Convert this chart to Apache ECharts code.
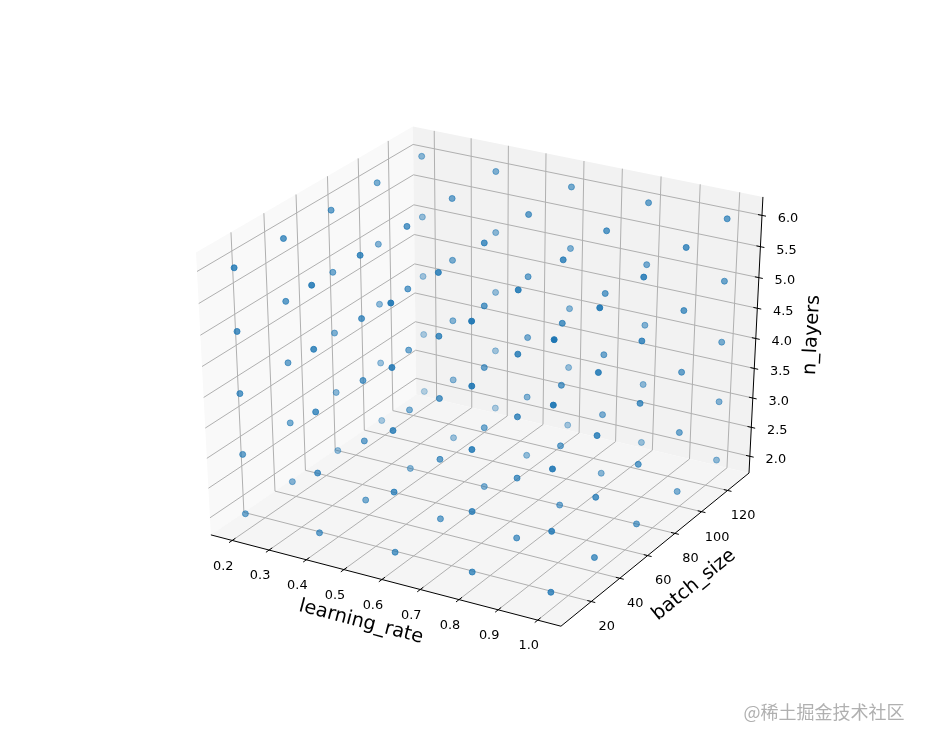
<!DOCTYPE html>
<html><head><meta charset="utf-8">
<style>html,body{margin:0;padding:0;background:#fff}#c{width:926px;height:743px}</style>
<script src="https://cdn.jsdelivr.net/npm/echarts@6/dist/echarts.min.js"></script>
</head><body><div id="c"></div>
<script>
// values
const learningRates = [0.2, 0.4, 0.6, 0.8, 1.0];
const batchSizes = [8, 38, 68, 98, 128];
const nLayers = [2, 3, 4, 5, 6];
const xTicks = [0.2, 0.3, 0.4, 0.5, 0.6, 0.7, 0.8, 0.9, 1.0];
const yTicks = [20, 40, 60, 80, 100, 120];
const zTicks = [2.0, 2.5, 3.0, 3.5, 4.0, 4.5, 5.0, 5.5, 6.0];

// 3D view (elevation 30, azimuth -60, unit cube stretched to the axes rectangle)
const limits = { x: [0.16, 1.04], y: [2, 134], z: [1.8, 6.2] };
const ELEV = 30 * Math.PI / 180, AZIM = -60 * Math.PI / 180, DIST = 10;
const box = [1, 1, 1];
const R = box.map(b => b / 2);
const dirv = [Math.cos(ELEV) * Math.cos(AZIM), Math.cos(ELEV) * Math.sin(AZIM), Math.sin(ELEV)];
const eye = R.map((r, i) => r + DIST * dirv[i]);
const cross = (a, b) => [a[1]*b[2]-a[2]*b[1], a[2]*b[0]-a[0]*b[2], a[0]*b[1]-a[1]*b[0]];
const dot = (a, b) => a[0]*b[0]+a[1]*b[1]+a[2]*b[2];
const w = dirv;
let u = cross([0, 0, 1], w); const un = Math.hypot(...u); u = u.map(v => v / un);
const v = cross(w, u);
function toBox(p) {
  return [
    (p[0]-limits.x[0])/(limits.x[1]-limits.x[0])*box[0],
    (p[1]-limits.y[0])/(limits.y[1]-limits.y[0])*box[1],
    (p[2]-limits.z[0])/(limits.z[1]-limits.z[0])*box[2]
  ];
}
function depth(p) { const b = toBox(p); return -dot(b.map((c,i)=>c-eye[i]), w); }
function proj(p) {
  const b = toBox(p), q = b.map((c,i)=>c-eye[i]);
  const zv = -dot(q, w);
  return [dot(q, u)/zv, dot(q, v)/zv];
}

// pane extents
const pad = a => { const d = (a[1]-a[0])/48; return [a[0]-d, a[1]+d]; };
const X = pad(limits.x), Y = pad(limits.y), Z = pad(limits.z);

// points
const raw = [];
learningRates.forEach(l => batchSizes.forEach(b => nLayers.forEach(n => raw.push([l, b, n]))));
const ds = raw.map(depth), dMin = Math.min(...ds), dMax = Math.max(...ds);
const points = raw
  .map((p, i) => ({ p, d: ds[i] }))
  .sort((a, b) => b.d - a.d)
  .map(o => ({
    value: proj(o.p),
    itemStyle: { opacity: 1 - 0.7 * (o.d - dMin) / (dMax - dMin) }
  }));

const FONT = 'DejaVu Sans';
const TICK_FS = 12.9, LABEL_FS = 19.3;
function renderChrome(params, api) {
  const c = p => api.coord(proj(p));
  const kids = [];
  const poly = (pts, fill) => kids.push({ type: 'polygon', shape: { points: pts.map(c) }, style: { fill, stroke: 'none' } });
  const line = (a, b, stroke, lw) => {
    const A = c(a), B = c(b);
    kids.push({ type: 'line', shape: { x1: A[0], y1: A[1], x2: B[0], y2: B[1] }, style: { stroke, lineWidth: lw } });
  };
  const text = (s, x, y, fs, rot) => kids.push({
    type: 'text', x, y, rotation: (rot || 0) * Math.PI / 180,
    style: { text: s, fontFamily: FONT, fontSize: fs, fill: '#000', align: 'center', verticalAlign: 'middle' }
  });
  // panes
  poly([[X[0],Y[0],Z[0]],[X[0],Y[1],Z[0]],[X[0],Y[1],Z[1]],[X[0],Y[0],Z[1]]], '#f9f9f9');
  poly([[X[0],Y[1],Z[0]],[X[1],Y[1],Z[0]],[X[1],Y[1],Z[1]],[X[0],Y[1],Z[1]]], '#f2f2f2');
  poly([[X[0],Y[0],Z[0]],[X[1],Y[0],Z[0]],[X[1],Y[1],Z[0]],[X[0],Y[1],Z[0]]], '#f5f5f5');
  // grid
  const GRID = '#b0b0b0', GW = 1;
  xTicks.forEach(t => { line([t,Y[0],Z[0]],[t,Y[1],Z[0]],GRID,GW); line([t,Y[1],Z[0]],[t,Y[1],Z[1]],GRID,GW); });
  yTicks.forEach(t => { line([X[1],t,Z[0]],[X[0],t,Z[0]],GRID,GW); line([X[0],t,Z[0]],[X[0],t,Z[1]],GRID,GW); });
  zTicks.forEach(t => { line([X[0],Y[0],t],[X[0],Y[1],t],GRID,GW); line([X[0],Y[1],t],[X[1],Y[1],t],GRID,GW); });
  // axis lines
  line([X[0],Y[0],Z[0]],[X[1],Y[0],Z[0]],'#000',1);
  line([X[1],Y[0],Z[0]],[X[1],Y[1],Z[0]],'#000',1);
  line([X[1],Y[1],Z[0]],[X[1],Y[1],Z[1]],'#000',1);
  // ticks and tick labels
  const dy = (Y[1]-Y[0]) * 0.0145, dx = (X[1]-X[0]) * 0.011;
  xTicks.forEach(t => {
    line([t,Y[0]-dy,Z[0]],[t,Y[0]+dy,Z[0]],'#000',1);
    const P = c([t,Y[0],Z[0]]);
    text(t.toFixed(1), P[0]-9, P[1]+26, TICK_FS);
  });
  yTicks.forEach(t => {
    line([X[1]-dx,t,Z[0]],[X[1]+dx,t,Z[0]],'#000',1);
    const P = c([X[1],t,Z[0]]);
    text(String(t), P[0]+15.5, P[1]+25.5, TICK_FS);
  });
  zTicks.forEach(t => {
    line([X[1]-dx,Y[1],t],[X[1]+dx,Y[1],t],'#000',1);
    const P = c([X[1],Y[1],t]);
    text(t.toFixed(1), P[0]+26, P[1]+3.5, TICK_FS);
  });
  // axis titles
  text('learning_rate', 361, 622, LABEL_FS, -14.7);
  text('batch_size', 694, 585, LABEL_FS, 39);
  text('n_layers', 812, 335, LABEL_FS, 87);
  // watermark
  kids.push({ type: 'text', x: 824, y: 712, style: { text: '@稀土掘金技术社区', fontFamily: 'Noto Sans CJK SC', fontSize: 18, fill: '#b0b0b0', align: 'center', verticalAlign: 'middle' } });
  return { type: 'group', children: kids };
}

const LEFT = 115.75, TOP = 89.2, WIDTH = 717.65, HEIGHT = 572.1;
const chart = echarts.init(document.getElementById('c'), null, { renderer: 'canvas' });
chart.setOption({
  animation: false,
  backgroundColor: '#fff',
  grid: { left: LEFT, top: TOP, width: WIDTH, height: HEIGHT, containLabel: false },
  xAxis: { type: 'value', min: -0.095, max: 0.09, show: false },
  yAxis: { type: 'value', min: -0.095, max: 0.09, show: false },
  series: [
    { type: 'custom', data: [[0, 0]], renderItem: renderChrome, silent: true, clip: false, z: 1 },
    { type: 'scatter', data: points, symbol: 'circle', symbolSize: 6, clip: false, silent: true, z: 2,
      itemStyle: { color: '#1f77b4', borderColor: '#1f77b4', borderWidth: 1 } }
  ]
});
</script></body></html>
